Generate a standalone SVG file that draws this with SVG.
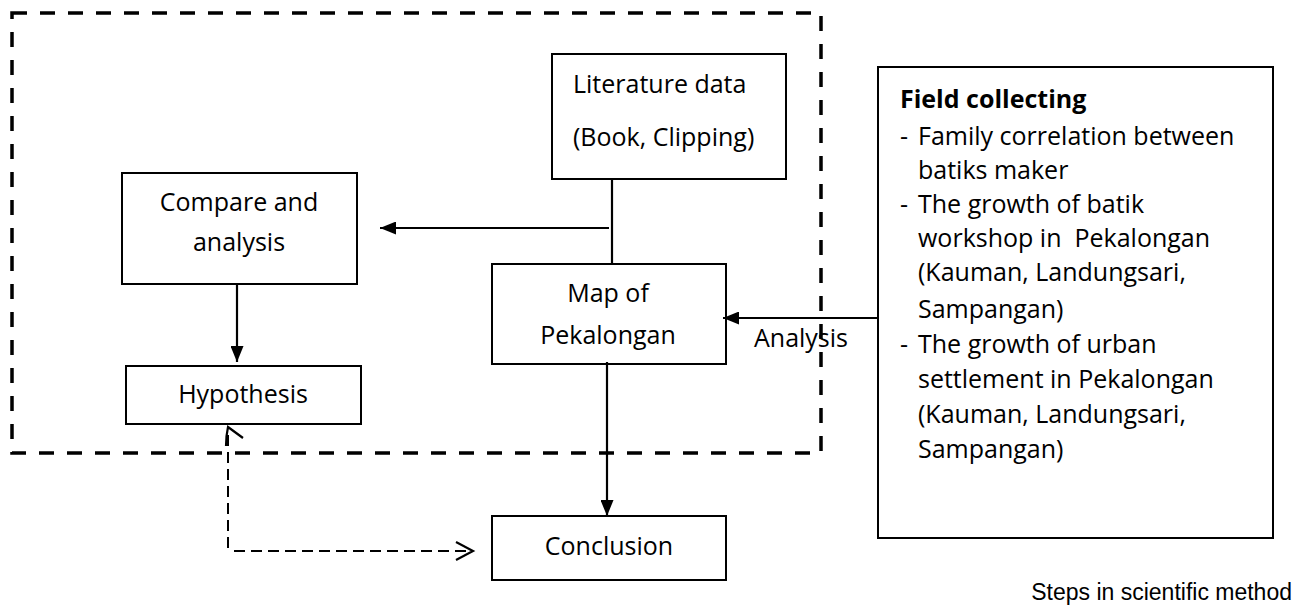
<svg xmlns="http://www.w3.org/2000/svg" width="1296" height="606" viewBox="0 0 1296 606">
<style>
  .box { fill: #ffffff; stroke: #000000; stroke-width: 2; }
  .t { font-family: "Open Sans", "Liberation Sans", sans-serif; font-size: 25px; fill: #000000; }
  .c { text-anchor: middle; }
  .b { font-weight: bold; }
  .line { stroke: #000000; stroke-width: 2.2; fill: none; }
  .dash { stroke: #000000; stroke-width: 2; fill: none; stroke-dasharray: 11 6; }
  .frame { stroke: #000000; stroke-width: 3.5; fill: none; stroke-dasharray: 15 13; }
  .cap { font-family: "Liberation Sans", Arial, sans-serif; font-size: 23px; fill: #000000; }
</style>
<defs>
  <marker id="arr" viewBox="0 0 16 13" refX="16" refY="6.5" markerWidth="16" markerHeight="13" markerUnits="userSpaceOnUse" orient="auto">
    <path d="M0,0 L16,6.5 L0,13 Z" fill="#000000"/>
  </marker>
</defs>
<rect width="1296" height="606" fill="#ffffff"/>
<rect id="frame" class="frame" x="12" y="13" width="809" height="440"/>

<g id="literature">
  <rect class="box" x="552" y="54" width="234" height="125"/>
  <text class="t" x="573" y="93">Literature data</text>
  <text class="t" x="573" y="146">(Book, Clipping)</text>
</g>
<g id="compare">
  <rect class="box" x="122" y="173" width="235" height="111"/>
  <text class="t c" x="239" y="211">Compare and</text>
  <text class="t c" x="239" y="251">analysis</text>
</g>
<g id="map">
  <rect class="box" x="492" y="264" width="234" height="100"/>
  <text class="t c" x="608" y="302">Map of</text>
  <text class="t c" x="608" y="344">Pekalongan</text>
</g>
<g id="hypothesis">
  <rect class="box" x="126" y="366" width="235" height="58"/>
  <text class="t c" x="243" y="403">Hypothesis</text>
</g>
<g id="conclusion">
  <rect class="box" x="492" y="516" width="234" height="64"/>
  <text class="t c" x="609" y="555">Conclusion</text>
</g>
<g id="field">
  <rect class="box" x="878" y="67" width="395" height="471"/>
  <text class="t b" x="900" y="108">Field collecting</text>
  <text class="t" x="900" y="145">-</text>
  <text class="t" x="918" y="145">Family correlation between</text>
  <text class="t" x="918" y="179">batiks maker</text>
  <text class="t" x="900" y="213">-</text>
  <text class="t" x="918" y="213">The growth of batik</text>
  <text class="t" x="918" y="247" xml:space="preserve">workshop in  Pekalongan</text>
  <text class="t" x="918" y="281">(Kauman, Landungsari,</text>
  <text class="t" x="918" y="318">Sampangan)</text>
  <text class="t" x="900" y="353">-</text>
  <text class="t" x="918" y="353">The growth of urban</text>
  <text class="t" x="918" y="388">settlement in Pekalongan</text>
  <text class="t" x="918" y="423">(Kauman, Landungsari,</text>
  <text class="t" x="918" y="458">Sampangan)</text>
</g>

<g id="connectors">
  <line class="line" x1="612" y1="179" x2="612" y2="264"/>
  <line class="line" x1="609" y1="228" x2="380" y2="228" marker-end="url(#arr)"/>
  <line class="line" x1="878" y1="318" x2="723" y2="318" marker-end="url(#arr)"/>
  <line class="line" x1="607" y1="362" x2="607" y2="516" marker-end="url(#arr)"/>
  <line class="line" x1="237" y1="284" x2="237" y2="362" marker-end="url(#arr)"/>
  <path class="dash" d="M228,548 L228,432"/>
  <path class="line" d="M226,446 Q226,436 228,427 L243,438"/>
  <path class="dash" d="M234,551 L471,551"/>
  <path class="line" d="M456,542 L473,551 L456,560"/>
  <text class="t" x="754" y="347">Analysis</text>
</g>

<text class="cap" x="1292" y="600" text-anchor="end">Steps in scientific method</text>
</svg>
